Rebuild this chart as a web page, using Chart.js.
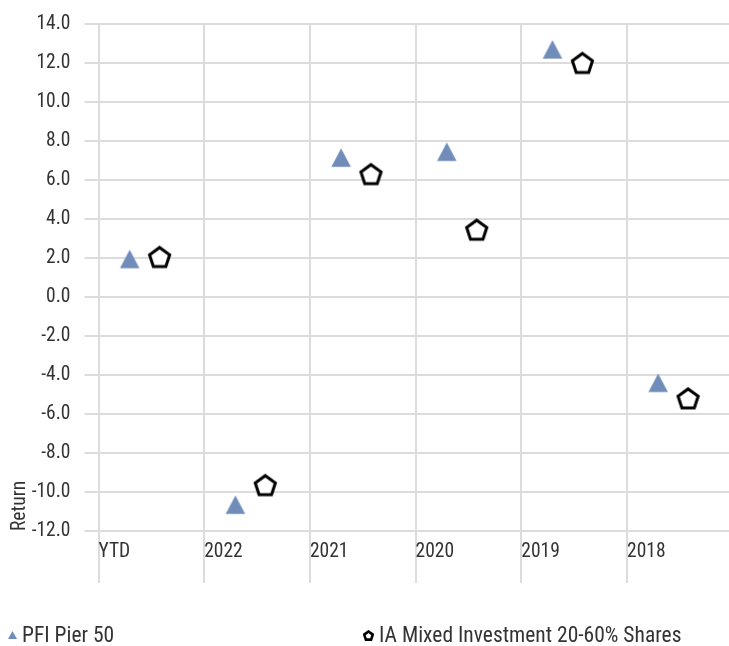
<!DOCTYPE html>
<html>
<head>
<meta charset="utf-8">
<script src="https://cdn.jsdelivr.net/npm/chart.js@4/dist/chart.umd.min.js"></script>
<style>
  html, body { margin: 0; padding: 0; background: #fff; overflow: hidden; }
  #wrap { position: relative; width: 729px; height: 646px; }
  #legend { position: absolute; left: 0; top: 624px; width: 729px; height: 22px;
    font-family: 'Roboto Condensed', sans-serif; font-size: 21.5px; color: #333; }
  .item { position: absolute; top: 0; white-space: nowrap; line-height: 22px; }
  .item svg { vertical-align: middle; margin-right: 5px; position: relative; top: -1px; }
</style>
</head>
<body>
<div id="wrap">
  <canvas id="chart" width="729" height="646"></canvas>
  <div id="legend"></div>
</div>
<script>
const categories = ['YTD', '2022', '2021', '2020', '2019', '2018'];
const seriesNames = ['PFI Pier 50', 'IA Mixed Investment 20-60% Shares'];
const pierValues = [1.95, -10.65, 7.15, 7.45, 12.7, -4.4];
const sectorValues = [2.05, -9.65, 6.3, 3.45, 12.0, -5.2];
const yTicks = [-12, -10, -8, -6, -4, -2, 0, 2, 4, 6, 8, 10, 12, 14];

const FONT = "'Roboto Condensed', sans-serif";
const TEXT = '#333333';
const GRID = '#dcdcdc';
const BLUE = '#708cb9';

// where each series sits inside its category slot
const pierOffset = 0.295;
const sectorOffset = 0.578;

function triangleImg(w, h, color) {
  const c = document.createElement('canvas');
  c.width = Math.ceil(w) + 2; c.height = Math.ceil(h) + 2;
  const ctx = c.getContext('2d');
  const cx = c.width / 2, cy = c.height / 2;
  ctx.fillStyle = color;
  ctx.beginPath();
  ctx.moveTo(cx, cy - h / 2);
  ctx.lineTo(cx + w / 2, cy + h / 2);
  ctx.lineTo(cx - w / 2, cy + h / 2);
  ctx.closePath();
  ctx.fill();
  return c;
}

function pentagonImg(R, lw) {
  const size = Math.ceil(2 * R + lw + 4);
  const c = document.createElement('canvas');
  c.width = size; c.height = size;
  const ctx = c.getContext('2d');
  const h = R * (1 + Math.cos(Math.PI / 5));
  const cx = size / 2, cy = size / 2 - h / 2 + R;
  ctx.beginPath();
  for (let i = 0; i < 5; i++) {
    const a = -Math.PI / 2 + i * 2 * Math.PI / 5;
    const px = cx + R * Math.cos(a), py = cy + R * Math.sin(a);
    if (i === 0) ctx.moveTo(px, py); else ctx.lineTo(px, py);
  }
  ctx.closePath();
  ctx.fillStyle = '#fff';
  ctx.fill();
  ctx.lineWidth = lw;
  ctx.lineJoin = 'miter';
  ctx.strokeStyle = '#000';
  ctx.stroke();
  return c;
}

const triMarker = triangleImg(19.5, 18.5, BLUE);
const pentMarker = pentagonImg(10.6, 3);

const chart = new Chart(document.getElementById('chart'), {
  type: 'scatter',
  data: {
    datasets: [
      {
        label: seriesNames[0],
        data: pierValues.map((v, i) => ({ x: i + pierOffset, y: v })),
        pointStyle: triMarker,
        pointRadius: 10,
        showLine: false,
      },
      {
        label: seriesNames[1],
        data: sectorValues.map((v, i) => ({ x: i + sectorOffset, y: v })),
        pointStyle: pentMarker,
        pointRadius: 10,
        showLine: false,
      },
    ],
  },
  options: {
    responsive: false,
    animation: false,
    layout: { autoPadding: false, padding: { top: 24, right: 0, bottom: 55, left: 0 } },
    plugins: { legend: { display: false }, tooltip: { enabled: false } },
    scales: {
      x: {
        type: 'linear',
        min: 0,
        max: 5.965,
        afterFit: s => { s.height = 60; s.paddingRight = 0; s.paddingLeft = 0; },
        afterBuildTicks: s => { s.ticks = categories.map((c, i) => ({ value: i })); },
        border: { display: false },
        grid: { color: GRID, lineWidth: 2, drawTicks: true, tickLength: 52, tickColor: GRID },
        ticks: {
          align: 'start',
          padding: -43,
          maxRotation: 0,
          autoSkip: false,
          color: TEXT,
          font: { family: FONT, size: 19.5 },
          callback: v => categories[v] ?? '',
        },
      },
      y: {
        min: yTicks[0],
        max: yTicks[yTicks.length - 1],
        afterFit: s => { s.width = 98.5; s.paddingTop = 0; s.paddingBottom = 0; },
        afterBuildTicks: s => { s.ticks = yTicks.map(v => ({ value: v })); },
        border: { display: false },
        grid: { color: GRID, lineWidth: 2, drawTicks: true, tickLength: 14, tickColor: GRID },
        ticks: {
          padding: 14,
          color: TEXT,
          font: { family: FONT, size: 19.5 },
          callback: v => v.toFixed(1),
        },
        title: {
          display: true,
          text: 'Return',
          align: 'start',
          color: TEXT,
          font: { family: FONT, size: 19.5 },
          padding: { top: 8, bottom: 0 },
        },
      },
    },
  },
});

// legend row along the bottom
const legend = document.getElementById('legend');
legend.innerHTML = `
  <span class="item" style="left:8px"><svg width="9" height="8"><polygon points="4.5,0 9,8 0,8" fill="${BLUE}"/></svg>${seriesNames[0]}</span>
  <span class="item" style="left:363px"><svg width="11" height="11"><polygon points="5.5,1.5 9.8,4.6 8.1,9.6 2.9,9.6 1.2,4.6" fill="#fff" stroke="#000" stroke-width="2.6"/></svg>${seriesNames[1]}</span>
`;
</script>
</body>
</html>
